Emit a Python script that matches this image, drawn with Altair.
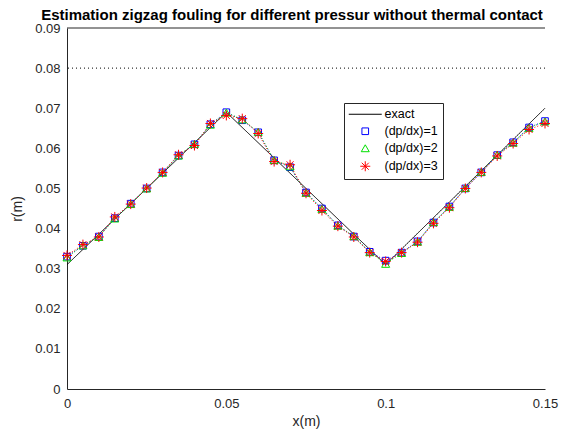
import altair as alt
import pandas as pd

# ---- data ----
x_pts = [0.000, 0.005, 0.010, 0.015, 0.020, 0.025, 0.030, 0.035, 0.040, 0.045,
         0.050, 0.055, 0.060, 0.065, 0.070, 0.075, 0.080, 0.085, 0.090, 0.095,
         0.100, 0.105, 0.110, 0.115, 0.120, 0.125, 0.130, 0.135, 0.140, 0.145, 0.150]
dp1 = [0.0330, 0.0357, 0.0380, 0.0426, 0.0462, 0.0500, 0.0540, 0.0582, 0.0610, 0.0660,
       0.0690, 0.0670, 0.0640, 0.0570, 0.0553, 0.0490, 0.0450, 0.0408, 0.0380, 0.0342,
       0.0320, 0.0340, 0.0368, 0.0415, 0.0455, 0.0500, 0.0540, 0.0583, 0.0615, 0.0652, 0.0668]
dp2 = [0.0328, 0.0358, 0.0379, 0.0425, 0.0461, 0.0500, 0.0539, 0.0582, 0.0611, 0.0659,
       0.0689, 0.0672, 0.0641, 0.0571, 0.0555, 0.0489, 0.0449, 0.0407, 0.0381, 0.0341,
       0.0312, 0.0339, 0.0367, 0.0416, 0.0454, 0.0501, 0.0541, 0.0584, 0.0614, 0.0651, 0.0667]
dp3 = [0.0333, 0.0360, 0.0379, 0.0429, 0.0461, 0.0501, 0.0540, 0.0584, 0.0607, 0.0662,
       0.0682, 0.0674, 0.0637, 0.0567, 0.0559, 0.0488, 0.0445, 0.0406, 0.0379, 0.0340,
       0.0318, 0.0340, 0.0366, 0.0413, 0.0452, 0.0500, 0.0540, 0.0581, 0.0612, 0.0647, 0.0662]
exact_x = [0.0, 0.05, 0.10, 0.15]
exact_y = [0.031, 0.069, 0.031, 0.070]
ref_level = [0.08]
top_level = [0.09]
x_ticks = [0, 0.05, 0.1, 0.15]
y_ticks = [0, 0.01, 0.02, 0.03, 0.04, 0.05, 0.06, 0.07, 0.08, 0.09]

series_names = ["exact", "(dp/dx)=1", "(dp/dx)=2", "(dp/dx)=3"]
series_colors = ["#000000", "#0000FF", "#00E000", "#FF0000"]
asterisk = "M-1,0L1,0M0,-1L0,1M-0.7,-0.7L0.7,0.7M-0.7,0.7L0.7,-0.7"
long_stroke = "M-3,0L3,0"
series_shapes = [long_stroke, "square", "triangle-up", asterisk]
series_sizes = [121, 44, 64, 100]
series_dash = [[1, 0], [1, 2], [1, 2], [1, 2]]

rows = []
for xv, yv in zip(exact_x, exact_y):
    rows.append({"x": xv, "r": yv, "series": "exact"})
for name, vals in zip(series_names[1:], [dp1, dp2, dp3]):
    for xv, yv in zip(x_pts, vals):
        rows.append({"x": xv, "r": yv, "series": name})
df = pd.DataFrame(rows)

xs = alt.Scale(domain=[0, 0.15], nice=False)
ys = alt.Scale(domain=[0, 0.09], nice=False)

x_enc = alt.X("x:Q", scale=xs,
              axis=alt.Axis(values=x_ticks, format="~g", title="x(m)",
                            grid=False, tickSize=0, labelPadding=8,
                            titleBaseline="alphabetic", titleY=36,
                            labelFlush=False))
y_enc = alt.Y("r:Q", scale=ys,
              axis=alt.Axis(values=y_ticks, format="~g", title="r(m)",
                            grid=False, tickSize=0, labelPadding=7,
                            titleBaseline="alphabetic", titleX=-46,
                            labelFlush=False))

line_layers = []
for name, col, dash in zip(series_names, series_colors, series_dash):
    line_layers.append(
        alt.Chart(df).transform_filter(alt.datum.series == name)
        .mark_line(strokeWidth=1, color=col, strokeDash=dash)
        .encode(x=x_enc, y=y_enc)
    )

legend = alt.Legend(title=None, orient="none", legendX=277, legendY=75,
                    strokeColor="#262626", fillColor="white", padding=5,
                    labelFontSize=12.5, labelColor="#000000", labelFont="Liberation Sans",
                    rowPadding=4, symbolStrokeWidth=1, symbolOffset=10, labelOffset=13)

points = alt.Chart(df).transform_filter(alt.datum.series != "exact").mark_point(
    filled=False, strokeWidth=1, opacity=1).encode(
    x="x:Q", y="r:Q",
    color=alt.Color("series:N", scale=alt.Scale(domain=series_names, range=series_colors), legend=legend),
    shape=alt.Shape("series:N", scale=alt.Scale(domain=series_names, range=series_shapes), legend=legend),
    size=alt.Size("series:N", scale=alt.Scale(type="ordinal", domain=series_names, range=series_sizes), legend=legend),
)

ref = alt.Chart(pd.DataFrame({"r": ref_level})).mark_rule(
    color="#000000", strokeDash=[1, 3], strokeWidth=1).encode(y=alt.Y("r:Q"))
top = alt.Chart(pd.DataFrame({"r": top_level})).mark_rule(
    color="#262626", strokeWidth=1).encode(y=alt.Y("r:Q"))

chart = alt.layer(ref, top, *line_layers, points).properties(
    width=478, height=361,
    autosize=alt.AutoSizeParams(type="none"),
    padding={"left": 59, "top": 20, "right": 29, "bottom": 40},
    title=alt.Title("Estimation zigzag fouling for different pressur without thermal contact",
                    fontSize=15, fontWeight="bold", font="Liberation Sans", color="#000000",
                    anchor="middle", dx=-14, dy=1, offset=0),
).configure_view(stroke=None).configure_axis(
    domainColor="#262626", labelColor="#262626", titleColor="#262626",
    labelFont="Liberation Sans", titleFont="Liberation Sans",
    labelFontSize=13, titleFontSize=14, titleFontWeight="normal",
)

chart.save("out.html", embed_options={"renderer": "svg", "actions": False})
